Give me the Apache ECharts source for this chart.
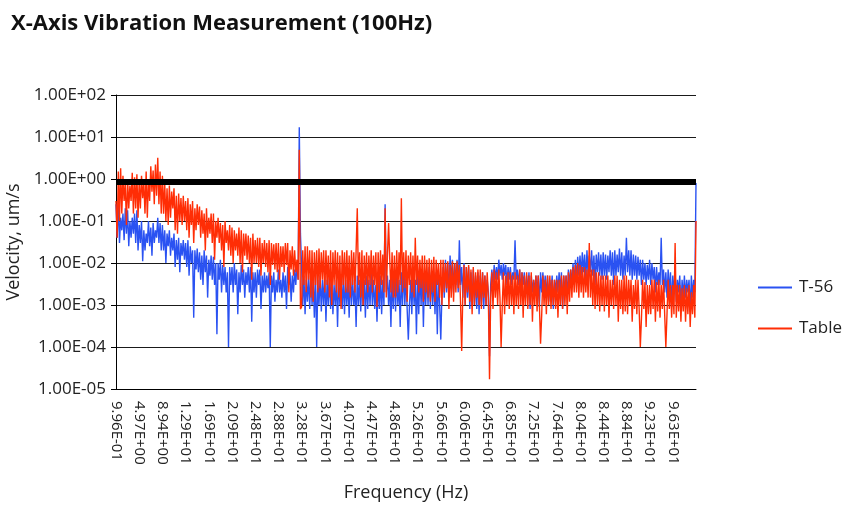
<!DOCTYPE html>
<html><head><meta charset="utf-8">
<script src="https://cdn.jsdelivr.net/npm/echarts@6/dist/echarts.min.js"></script>
<style>html,body{margin:0;padding:0;background:#fff}#c{width:858px;height:511px}</style>
</head><body><div id="c"></div>
<script>
const tickLabels = ['9.96E-01','4.97E+00','8.94E+00','1.29E+01','1.69E+01','2.09E+01','2.48E+01','2.88E+01','3.28E+01','3.67E+01','4.07E+01','4.47E+01','4.86E+01','5.26E+01','5.66E+01','6.06E+01','6.45E+01','6.85E+01','7.25E+01','7.64E+01','8.04E+01','8.44E+01','8.84E+01','9.23E+01','9.63E+01'];
const yTickLabels = {'-5':'1.00E-05','-4':'1.00E-04','-3':'1.00E-03','-2':'1.00E-02','-1':'1.00E-01','0':'1.00E+00','1':'1.00E+01','2':'1.00E+02'};
const limitValue = 0.85;
const t56 = [
.25,.04,.3,.03,.12,.06,.15,.035,.2,.05,.18,.025,.1,.04,.12,.05,.15,.03,.18,.02,
.08,.03,.1,.011,.06,.02,.05,.03,.1,.025,.07,.015,.09,.03,.06,.04,.12,.03,.09,.02,
.08,.02,.06,.01,.05,.025,.06,.015,.04,.02,.05,.008,.035,.012,.04,.006,.03,.015,.035,.012,
.03,.008,.035,.005,.025,.01,.02,.0005,.02,.007,.022,.006,.018,.004,.015,.003,.02,.006,.015,.0015,
.012,.005,.015,.004,.014,.003,.01,.0002,.01,.004,.012,.002,.009,.003,.008,.002,.006,.0001,.008,.003,
.008,.002,.01,.003,.007,.0006,.006,.002,.009,.003,.007,.0015,.006,.003,.008,.002,.008,.0004,.006,.002,
.006,.0015,.007,.003,.007,.0008,.005,.002,.006,.002,.005,.0025,.006,.0001,.005,.002,.006,.0012,.004,.002,
.007,.002,.004,.0015,.006,.002,.005,.0008,.008,.003,.006,.0012,.005,.002,.007,.003,.01,.004,17,.05,
.008,.001,.005,.0006,.004,.0012,.005,.0008,.006,.001,.004,.0005,.006,.0001,.004,.001,.005,.0007,.004,.001,
.005,.0004,.004,.001,.006,.0008,.005,.0006,.003,.001,.004,.0003,.005,.001,.004,.0008,.005,.0006,.004,.001,
.004,.0005,.006,.001,.004,.001,.003,.0003,.005,.001,.004,.0007,.005,.001,.004,.0005,.005,.0008,.004,.001,
.006,.001,.004,.0008,.003,.0004,.004,.0008,.005,.0006,.004,.001,.25,.002,.005,.001,.004,.0003,.005,.0008,
.006,.0007,.005,.001,.004,.0003,.006,.001,.008,.001,.005,.0008,.00015,.001,.004,.0006,.005,.001,.004,.0002,
.005,.0006,.006,.001,.007,.0003,.005,.001,.006,.001,.008,.0008,.006,.001,.005,.0006,.006,.0002,.005,.001,
.00015,.002,.008,.0015,.012,.002,.01,.0015,.015,.003,.012,.002,.01,.003,.012,.002,.035,.003,.008,.0015,
.01,.001,.008,.0015,.008,.0008,.006,.001,.007,.001,.005,.0008,.006,.0006,.005,.001,.006,.0008,.005,.001,
.004,.002,.00006,.003,.007,.003,.009,.004,.008,.004,.012,.005,.009,.004,.01,.005,.009,.003,.008,.004,
.008,.003,.006,.004,.035,.004,.007,.003,.007,.002,.006,.003,.006,.0015,.005,.002,.006,.0008,.005,.002,
.004,.002,.005,.002,.005,.0009,.006,.002,.006,.002,.005,.0015,.005,.0012,.004,.002,.005,.0008,.004,.002,
.005,.002,.006,.002,.006,.0008,.005,.002,.005,.0015,.007,.003,.007,.003,.01,.003,.012,.004,.014,.005,
.015,.005,.018,.006,.016,.004,.02,.005,.015,.006,.02,.005,.015,.003,.016,.006,.018,.005,.016,.004,
.018,.005,.016,.004,.015,.006,.02,.005,.018,.003,.02,.005,.016,.006,.022,.005,.018,.004,.015,.005,
.04,.006,.02,.005,.02,.004,.016,.005,.015,.004,.014,.005,.012,.003,.012,.004,.01,.003,.009,.004,
.012,.003,.01,.004,.008,.002,.008,.003,.006,.003,.04,.003,.007,.002,.006,.0015,.007,.002,.006,.0009,
.005,.002,.006,.0012,.004,.002,.005,.0008,.004,.0015,.005,.0015,.004,.002,.004,.0007,.005,.0015,.004,.002,
.8];
const tableVals = [
.3,.04,1.5,.1,1.8,.15,1.2,.3,.8,.08,1.0,.2,.7,.3,1.4,.15,1.1,.2,1.3,.12,
.9,.2,1.2,.35,.8,.15,1.5,.12,1.0,.3,2.0,.5,1.6,.25,2.2,.4,3.2,.25,1.5,.15,
1.2,.15,.8,.1,.6,.08,.7,.12,.5,.2,.6,.06,.4,.05,.45,.1,.35,.08,.4,.1,
.3,.06,.35,.04,.25,.08,.3,.03,.2,.06,.25,.08,.22,.04,.18,.05,.15,.02,.2,.04,
.12,.05,.15,.03,.15,.012,.1,.04,.12,.03,.09,.02,.08,.008,.1,.03,.06,.02,.08,.015,
.07,.01,.06,.02,.05,.015,.07,.01,.06,.006,.05,.015,.05,.012,.045,.01,.04,.004,.05,.01,
.035,.01,.04,.008,.04,.005,.03,.01,.035,.008,.03,.006,.035,.003,.03,.009,.028,.007,.03,.006,
.03,.004,.025,.008,.025,.006,.03,.009,.03,.002,.02,.007,.025,.005,.02,.006,.012,.004,5,.0008,
.0009,.02,.003,.025,.002,.025,.004,.02,.0015,.02,.0012,.018,.003,.02,.002,.022,.0025,.018,.004,.02,
.002,.02,.003,.015,.0015,.02,.001,.018,.003,.02,.002,.018,.0015,.015,.0008,.02,.003,.018,.002,.02,
.002,.015,.0015,.02,.003,.018,.002,.02,.2,.003,.018,.0015,.02,.001,.015,.003,.018,.002,.015,.003,
.02,.002,.015,.003,.018,.0009,.018,.002,.02,.003,.016,.002,.2,.0015,.015,.09,.012,.002,.018,.0015,
.015,.0015,.02,.002,.018,.003,.35,.002,.018,.0025,.02,.0012,.015,.003,.018,.002,.015,.0015,.04,.003,
.015,.002,.012,.0025,.015,.0012,.015,.002,.012,.0015,.013,.0012,.012,.002,.014,.0012,.012,.003,.01,.0015,
.012,.001,.012,.002,.01,.0025,.011,.0008,.009,.0015,.011,.0012,.01,.002,.011,.0025,.009,.0012,.00008,.002,
.009,.001,.008,.002,.009,.0012,.007,.0006,.008,.001,.006,.0015,.007,.001,.007,.0008,.006,.0015,.005,.001,
.006,.0015,.000017,.0015,.006,.0008,.007,.0015,.006,.001,.007,.0015,.0001,.001,.006,.0006,.005,.001,.006,.0008,
.006,.001,.005,.0006,.006,.001,.005,.0008,.007,.001,.006,.0005,.005,.001,.006,.0008,.005,.001,.006,.0004,
.004,.001,.005,.0007,.005,.001,.00012,.0006,.005,.001,.004,.0006,.005,.001,.005,.0008,.004,.001,.004,.0008,
.004,.0005,.004,.001,.005,.0008,.005,.001,.005,.0006,.006,.0012,.007,.0015,.008,.002,.009,.002,.01,.0015,
.009,.002,.008,.0015,.008,.002,.007,.0015,.03,.0015,.007,.001,.007,.0008,.006,.001,.006,.0007,.005,.001,
.005,.0007,.005,.001,.005,.0005,.004,.001,.004,.0008,.005,.001,.005,.0004,.004,.0008,.004,.0006,.005,.0007,
.005,.0006,.004,.001,.004,.0004,.003,.0008,.004,.0006,.004,.0008,.0001,.0005,.004,.0008,.0035,.0003,.003,.0006,
.003,.0006,.004,.0008,.004,.0004,.0035,.0007,.004,.0005,.003,.0008,.004,.0006,.0001,.0006,.004,.0008,.003,.0005,
.003,.0006,.03,.0005,.003,.0007,.003,.0004,.0025,.0007,.003,.0004,.0025,.0006,.003,.0003,.002,.0006,.003,.0005,
.1];
const LABEL_EVERY = 20;
const categories = t56.map((_, i) => String(i));
const FONT = 'Open Sans';
const chart = echarts.init(document.getElementById('c'));
chart.setOption({
  animation: false,
  backgroundColor: '#fff',
  title: { text: 'X-Axis Vibration Measurement (100Hz)', left: 6, top: 8,
    textStyle: { fontFamily: FONT, fontSize: 22, fontWeight: 'bold', color: '#111' } },
  legend: { data: ['T-56', 'Table'], orient: 'vertical', left: 753, top: 274, itemGap: 24,
    icon: 'rect', itemWidth: 34, itemHeight: 2,
    textStyle: { fontFamily: FONT, fontSize: 17, color: '#222', padding: [0, 0, 0, 2] } },
  grid: { left: 116, right: 162, top: 95, bottom: 122, containLabel: false, outerBoundsMode: 'none' },
  xAxis: { type: 'category', data: categories, boundaryGap: false,
    name: 'Frequency (Hz)', nameLocation: 'middle', nameGap: 95,
    nameTextStyle: { fontFamily: FONT, fontSize: 18, color: '#222' },
    axisLine: { lineStyle: { color: '#000', width: 1 } }, axisTick: { show: false },
    axisLabel: { interval: LABEL_EVERY - 1, rotate: -90, margin: 12, fontFamily: FONT, fontSize: 15, color: '#222',
      formatter: (v, i) => (i % LABEL_EVERY === 0 && tickLabels[i / LABEL_EVERY]) ? tickLabels[i / LABEL_EVERY] : '' },
    splitLine: { show: false } },
  yAxis: { type: 'log', logBase: 10, min: 1e-5, max: 100,
    name: 'Velocity, um/s', nameLocation: 'middle', nameGap: 92, nameRotate: 90,
    nameTextStyle: { fontFamily: FONT, fontSize: 18, color: '#222' },
    axisLine: { show: true, lineStyle: { color: '#000', width: 1 } },
    axisTick: { show: true, length: 5, lineStyle: { color: '#000' } },
    axisLabel: { fontFamily: FONT, fontSize: 17, color: '#222', margin: 10,
      formatter: v => yTickLabels[String(Math.round(Math.log10(v)))] || '' },
    splitLine: { show: true, lineStyle: { color: '#1a1a1a', width: 1 } } },
  series: [
    { name: 'Limit', type: 'line', data: [], z: 1, silent: true,
      markLine: { silent: true, symbol: 'none', label: { show: false },
        lineStyle: { color: '#000', width: 6, type: 'solid' }, data: [{ yAxis: limitValue }] } },
    { name: 'T-56', type: 'line', data: t56, z: 2, showSymbol: false, symbol: 'none',
      lineStyle: { color: '#2A52F2', width: 1.4 }, itemStyle: { color: '#2A52F2' } },
    { name: 'Table', type: 'line', data: tableVals, z: 3, showSymbol: false, symbol: 'none',
      lineStyle: { color: '#FF2D05', width: 1.4 }, itemStyle: { color: '#FF2D05' } }
  ]
});
</script></body></html>
